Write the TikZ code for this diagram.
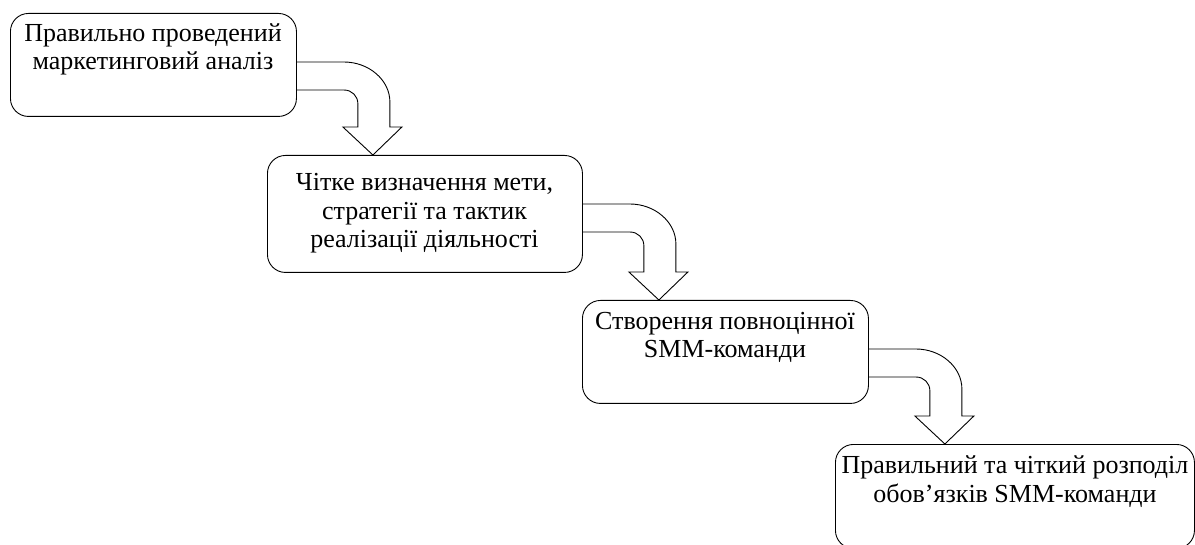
\documentclass[tikz,border=0pt]{standalone}
\usepackage{fontspec}
\setmainfont{Liberation Serif}
\usetikzlibrary{calc}
\tikzset{
  blok/.style={draw,rounded corners=18pt,line width=0.9pt,inner sep=0pt,anchor=north west},
  napys/.style={align=center,inner sep=0pt,anchor=base,font=\fontsize{26}{28.8}\selectfont},
  strilka/.style={line width=0.9pt,line join=miter}
}
% bent block arrow from the right side of #1 down to the top of #2
\newcommand\bendarrow[2]{%
\draw[strilka] let \p1=(#1.north east), \p2=(#2.north) in
  (\x1,\y1-49pt) -- (\x1+47pt,\y1-49pt)
  .. controls (\x1+72pt,\y1-49pt) and (\x1+93pt,\y1-67pt) .. (\x1+93pt,\y1-89pt)
  -- (\x1+93pt,\y2+28pt) -- (\x1+105pt,\y2+28pt) -- (\x1+76pt,\y2)
  -- (\x1+46pt,\y2+28pt) -- (\x1+61pt,\y2+28pt) -- (\x1+61pt,\y1-91pt)
  .. controls (\x1+61pt,\y1-83pt) and (\x1+55pt,\y1-77pt) .. (\x1+47pt,\y1-77pt)
  -- (\x1,\y1-77pt);}
\begin{document}
\begin{tikzpicture}[x=1pt,y=-1pt]
\useasboundingbox (0,0) rectangle (1195,545);
% boxes
\node[blok,minimum width=286pt,minimum height=103pt] (analiz) at (10,13) {};
\node[blok,minimum width=315pt,minimum height=117pt] (meta) at (267,155) {};
\node[blok,minimum width=286pt,minimum height=103pt] (komanda) at (582,300) {};
\node[blok,minimum width=359pt,minimum height=104pt] (rozpodil) at (835,444) {};
% texts (anchored at the baseline of the last line)
\node[napys] (analiztxt) at (153,70) {Правильно проведений\\маркетинговий аналіз};
\node[napys] (metatxt) at (424.5,248) {Чітке визначення мети,\\стратегії та тактик\\реалізації діяльності};
\node[napys] (komandatxt) at (725,358) {Створення повноцінної\\SMM-команди};
\node[napys] (rozpodiltxt) at (1015,502) {Правильний та чіткий розподіл\\обов’язків SMM-команди};
% arrows
\bendarrow{analiz}{meta}
\bendarrow{meta}{komanda}
\bendarrow{komanda}{rozpodil}
\end{tikzpicture}
\end{document}
